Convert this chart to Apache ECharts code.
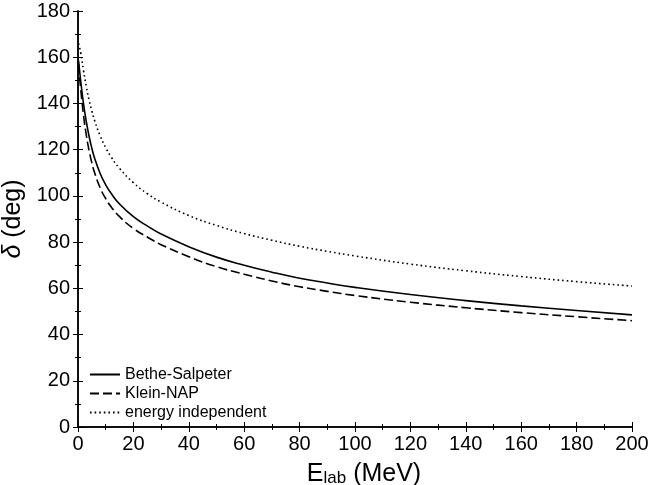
<!DOCTYPE html>
<html>
<head>
<meta charset="utf-8">
<script src="https://cdn.jsdelivr.net/npm/echarts@6/dist/echarts.min.js"></script>
<style>
html,body{margin:0;padding:0;background:#fff;}
#main{width:650px;height:485px;}
</style>
</head>
<body>
<div id="main"></div>
<script>
// energies (MeV)
var energies = [0.2, 0.5, 1, 2, 3, 4, 5, 6, 8, 10, 12, 15, 20, 25, 30, 40, 50, 60, 70, 80, 90, 100, 120, 140, 160, 180, 200];
// phase shifts (deg)
var betheSalpeter = [158.5, 155, 149.5, 139.8, 132.1, 125.8, 120.6, 116.3, 109.7, 104.8, 101, 96.5, 91, 87, 83.5, 78, 73.5, 70, 67, 64.4, 62.3, 60.4, 57.3, 54.7, 52.4, 50.4, 48.5];
var kleinNAP = [157, 152.5, 146, 134.8, 126.3, 119.6, 114.3, 110, 103.5, 98.8, 95.2, 91, 85.9, 82.2, 78.9, 73.7, 69.4, 66.1, 63.2, 60.7, 58.7, 56.9, 54, 51.6, 49.5, 47.7, 46];
var energyIndep = [166, 164.6, 161.8, 154.2, 147.3, 141.5, 136.7, 132.6, 126, 120.9, 116.8, 111.9, 105.7, 101, 97.3, 91.5, 87.2, 83.7, 80.8, 78.2, 76, 74, 70.5, 67.6, 65.1, 62.9, 61];
var seriesNames = ["Bethe-Salpeter", "Klein-NAP", "energy independent"];

function pairs(ys){
	var out = [];
	for(var i=0;i<energies.length;i++){
		out.push([energies[i], ys[i]]);
	}
	return out;
}

var myChart = echarts.init(document.getElementById('main'));
var fontName = 'Liberation Sans, Arial, sans-serif';
var axisBase = {
	min: 0,
	interval: 20,
	axisLine: {lineStyle: {color: '#000', width: 1.5}},
	axisTick: {inside: true, length: 5, lineStyle: {color: '#000', width: 1}},
	minorTick: {show: true, splitNumber: 2, length: 3, lineStyle: {color: '#000', width: 1}},
	splitLine: {show: false}
};

var option = {
	animation: false,
	backgroundColor: '#fff',
	grid: {left: 78, right: 18, top: 11, bottom: 58, containLabel: false, outerBoundsMode: 'none'},
	legend: {
		orient: 'vertical',
		left: 84,
		top: 361,
		itemWidth: 30,
		itemHeight: 10,
		itemGap: 2,
		itemStyle: {opacity: 0},
		data: seriesNames,
		textStyle: {fontFamily: fontName, fontSize: 16, lineHeight: 17, color: '#000'}
	},
	xAxis: [
		Object.assign({}, axisBase, {
			type: 'value', max: 200, position: 'bottom',
			axisLabel: {fontFamily: fontName, fontSize: 20, color: '#000', margin: 7},
			name: '{e|E}{s|lab}{e| (MeV)}',
			nameLocation: 'middle',
			nameGap: 34,
			nameTextStyle: {
				padding: [0, 0, 0, 18],
				rich: {
					e: {fontFamily: fontName, fontSize: 25, color: '#000'},
					s: {fontFamily: fontName, fontSize: 17, color: '#000', verticalAlign: 'bottom', padding: [9, 0, 0, 0]}
				}
			}
		}),
		Object.assign({}, axisBase, {
			type: 'value', max: 200, position: 'top',
			axisLabel: {show: false}
		})
	],
	yAxis: [
		Object.assign({}, axisBase, {
			type: 'value', max: 180, position: 'left',
			axisLabel: {fontFamily: fontName, fontSize: 20, color: '#000', margin: 8},
			name: '{d|δ}{t| (deg)}',
			nameLocation: 'middle',
			nameGap: 50,
			nameTextStyle: {
				rich: {
					d: {fontFamily: fontName, fontSize: 25, fontStyle: 'italic', color: '#000'},
					t: {fontFamily: fontName, fontSize: 25, color: '#000'}
				}
			}
		}),
		Object.assign({}, axisBase, {
			type: 'value', max: 180, position: 'right',
			axisLabel: {show: false}
		})
	],
	series: [
		{
			name: seriesNames[0], type: 'line', smooth: true, symbol: 'none',
			lineStyle: {color: '#000', width: 1.6, type: 'solid'},
			itemStyle: {color: '#000'},
			data: pairs(betheSalpeter)
		},
		{
			name: seriesNames[1], type: 'line', smooth: true, symbol: 'none',
			lineStyle: {color: '#000', width: 1.6, type: [9, 4]},
			itemStyle: {color: '#000'},
			data: pairs(kleinNAP)
		},
		{
			name: seriesNames[2], type: 'line', smooth: true, symbol: 'none',
			lineStyle: {color: '#000', width: 1.6, type: [1.6, 3]},
			itemStyle: {color: '#000'},
			data: pairs(energyIndep)
		}
	]
};
myChart.setOption(option);
</script>
</body>
</html>
